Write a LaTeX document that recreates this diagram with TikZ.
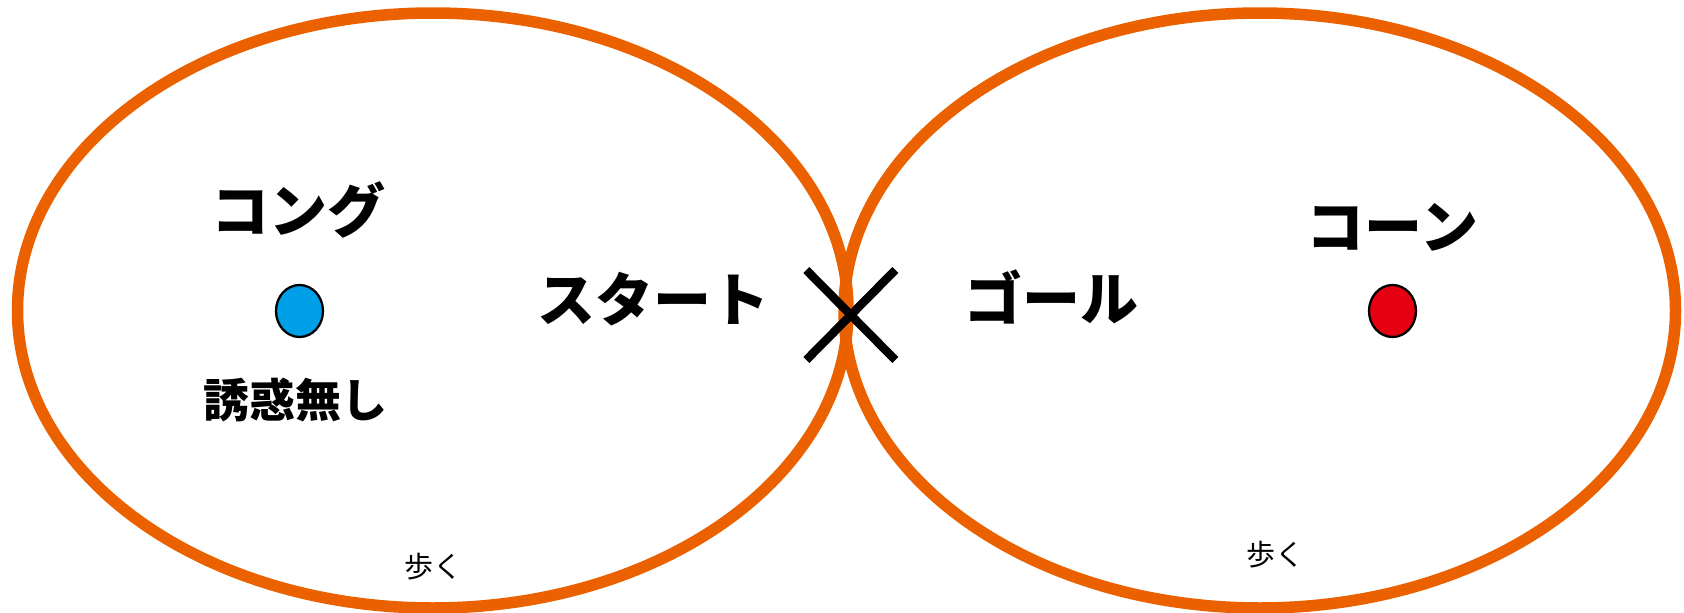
\documentclass[tikz,border=0pt]{standalone}
\usepackage{fontspec}
\newfontfamily\jp{Noto Sans CJK JP}
\usetikzlibrary{shapes.geometric,calc}
\definecolor{ringorange}{HTML}{EB6100}
\definecolor{dotblue}{HTML}{00A0E9}
\definecolor{dotred}{HTML}{E60012}
\tikzset{
  ring/.style={draw=ringorange, line width=11.5pt},
  dot/.style={draw=black, line width=2.3pt, ellipse, inner sep=0pt, minimum width=47pt, minimum height=52pt},
  bigtxt/.style={inner sep=0pt, font=\jp\bfseries\fontsize{58pt}{60pt}\selectfont},
  midtxt/.style={inner sep=0pt, font=\jp\bfseries\fontsize{46pt}{48pt}\selectfont},
  smalltxt/.style={inner sep=0pt, font=\jp\fontsize{29pt}{31pt}\selectfont},
  crossline/.style={draw=black, line width=8.5pt}
}
\begin{document}
\begin{tikzpicture}[x=1pt,y=-1pt]
\useasboundingbox (0,0) rectangle (1684,613);
\fill[white] (0,0) rectangle (1684,613);
% rings
\draw[ring] (432.75,310.5) ellipse [x radius=415.25pt, y radius=297.5pt];
\draw[ring] (1259.75,310.5) ellipse [x radius=415.75pt, y radius=297.5pt];
% cross
\coordinate (X) at (850.8,315);
\draw[crossline] ($(X)+(-44.5,-45)$) -- ($(X)+(44.5,45)$);
\draw[crossline] ($(X)+(44.5,-45)$) -- ($(X)+(-44.5,45)$);
% left ring content
\node[bigtxt] (kong) at (298,210) {コング};
\node[dot, fill=dotblue] (bluedot) at (299.5,311) {};
\node[midtxt] (yuwaku) at (295.5,400) {誘惑無し};
\node[bigtxt] (start) at (653,299) {スタート};
\node[smalltxt] (walk1) at (433,567) {歩く};
% right ring content
\node[bigtxt] (goal) at (1051.5,297) {ゴール};
\node[bigtxt] (cone) at (1392.5,227.5) {コーン};
\node[dot, fill=dotred] (reddot) at (1392.5,311) {};
\node[smalltxt] (walk2) at (1275,555) {歩く};
\end{tikzpicture}
\end{document}
